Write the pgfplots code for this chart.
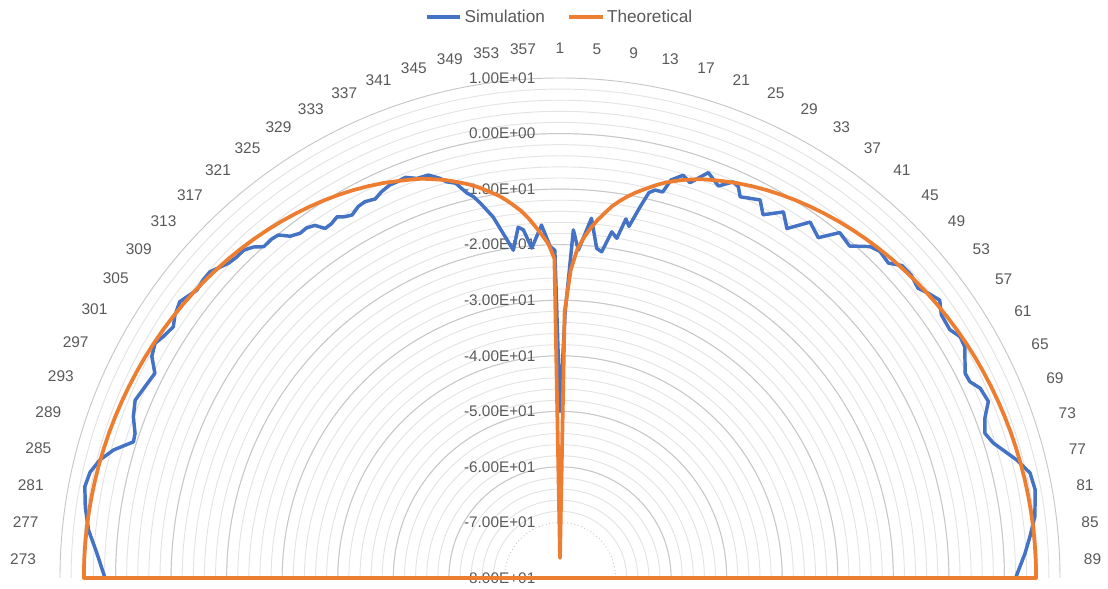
\documentclass[border=0pt]{standalone}
\usepackage{fontspec}
\setmainfont{Liberation Sans}
\usepackage{pgfplots}
\pgfplotsset{compat=1.18}
\usepackage{pgfplotstable}
\usepgfplotslibrary{polar}
\definecolor{simblue}{HTML}{4472C4}
\definecolor{theoorange}{HTML}{ED7D31}
\definecolor{labgray}{HTML}{595959}

% deg: clockwise from the top (category - 1), val: value on the radial axis
\pgfplotstableread{
deg val
-90 -80
-90 1.9
-86.9 3.5
-84.2 5.3
-81.5 6.4
-79.1 7.1
-77.3 6.7
-75.6 5.5
-74.0 3.6
-72.3 0.6
-71.2 0.8
-69.3 2.1
-67.3 2.9
-65.4 2.3
-63.2 1.7
-61.5 3.6
-59.9 4.25
-58.7 3.6
-57.0 3.0
-55.7 3.9
-54.0 4.6
-53.0 4.1
-51.6 3.4
-50.1 3.7
-48.8 3.7
-47.7 3.0
-46.5 2.3
-45.2 2.0
-44.0 2.0
-42.8 1.2
-41.8 0.0
-40.4 0.1
-39.4 -0.1
-38.3 -1.6
-37.0 -2.3
-35.9 -2.2
-34.8 -2.7
-33.9 -4.2
-32.8 -4.1
-31.7 -3.6
-30.8 -4.3
-29.8 -4.7
-28.5 -3.9
-27.4 -3.7
-26.0 -4.1
-24.8 -3.4
-23.4 -2.9
-22.4 -2.9
-21.1 -2.7
-19.7 -3.6
-18.1 -3.7
-16.7 -4.9
-16.0 -5.8
-14.8 -6.5
-13.6 -8.7
-12.8 -9.6
-12.0 -11.0
-10.5 -13.9
-9.6 -16.5
-8.1 -20.4
-6.8 -16.4
-6.0 -17.0
-4.9 -20.4
-3.0 -16.4
-1.7 -20.3
-0.9 -21.0
0 -50
1.1 -32.3
2.2 -17.3
3.2 -20.9
5.0 -15.0
6.35 -20.3
7.3 -20.8
8.5 -17.0
9.5 -18.0
10.4 -14.3
11.1 -15.5
12.2 -11.6
13.0 -8.8
13.8 -8.1
14.9 -8.1
15.6 -5.6
17.0 -4.2
18.2 -5.1
20.1 -2.3
22.0 -3.9
23.6 -2.2
24.5 -2.6
25.3 -4.1
27.9 -3.0
29.2 -5.1
31.4 -2.8
33.0 -5.0
35.1 -1.7
37.2 -3.1
39.0 0.0
41.1 -0.7
43.1 1.7
44.4 2.3
46.2 1.9
47.6 3.4
49.2 3.5
51.0 2.9
52.3 3.8
53.8 4.7
55.4 3.4
57.5 3.2
58.9 4.1
60.3 3.9
63.2 1.7
64.4 1.8
65.7 3.0
67.6 3.4
69.4 1.7
71.2 0.8
72.7 1.7
75.5 4.9
77.4 6.7
79.5 7.0
82.6 6.2
85.0 4.9
87.0 3.8
90 2.0
90 -80
}\simtable

\pgfplotstableread{
deg val
-90 -80
-90 5.7
-88 5.7
-86 5.68
-84 5.66
-82 5.62
-80 5.57
-78 5.51
-76 5.44
-74 5.35
-72 5.26
-70 5.15
-68 5.03
-66 4.9
-64 4.76
-62 4.61
-60 4.44
-58 4.26
-56 4.06
-54 3.85
-52 3.62
-50 3.37
-48 3.1
-46 2.82
-44 2.52
-42 2.19
-40 1.84
-38 1.46
-36 1.05
-34 0.62
-32 0.15
-30 -0.35
-28 -0.9
-26 -1.5
-24 -2.15
-22 -2.9
-20 -3.6
-19 -4.0
-18 -4.5
-17 -5.0
-16 -5.5
-15 -6.1
-14 -6.7
-13 -7.3
-12 -8.0
-11 -8.8
-10 -9.6
-9 -10.4
-8 -11.4
-7 -12.5
-6 -13.6
-5 -15.0
-4 -16.6
-3 -18.2
-2 -19.8
-1 -22.5
0 -76.4
1 -32.0
2 -24.5
3 -20.8
4 -18.6
5 -16.8
6 -15.2
7 -13.8
8 -12.4
9 -11.3
10 -10.3
11 -9.4
12 -8.6
13 -7.8
14 -7.0
15 -6.3
16 -5.7
17 -5.1
18 -4.6
19 -4.1
20 -3.65
22 -2.9
24 -2.15
26 -1.5
28 -0.9
30 -0.35
32 0.15
34 0.62
36 1.05
38 1.46
40 1.84
42 2.19
44 2.52
46 2.82
48 3.1
50 3.37
52 3.62
54 3.85
56 4.06
58 4.26
60 4.44
62 4.61
64 4.76
66 4.9
68 5.03
70 5.15
72 5.26
74 5.35
76 5.44
78 5.51
80 5.57
82 5.62
84 5.66
86 5.68
88 5.7
90 5.7
90 -80
}\theotable

\begin{document}
\begin{tikzpicture}
\begin{polaraxis}[
  scale only axis, width=750pt, height=750pt,
  xmin=0, xmax=180, ymin=0, ymax=90,
  xtick=\empty,
  ytick={20,30,...,90},
  minor ytick={12,14,...,88},
  yticklabels={},
  ymajorgrids, yminorgrids,
  major grid style={draw=black!22, line width=0.7pt},
  minor grid style={draw=black!11, line width=0.7pt},
  axis line style={draw=none},
  major tick length=0pt, minor tick length=0pt,
  clip=false,
  legend columns=2,
  legend cell align=left,
  legend style={at={(0.5,1)}, anchor=center, yshift=45.75pt,
    draw=none, fill=none, font=\fontsize{12.9pt}{15pt}\selectfont,
    text=labgray, inner sep=0pt,
    /tikz/every even column/.append style={column sep=15pt}},
  legend image code/.code={\draw[#1, line width=2.6pt] (0pt,0pt) -- (25pt,0pt);},
]
\coordinate (O) at (axis cs:0,0);
\draw[black!22, line width=0.7pt, dotted] (axis cs:0,10) arc[start angle=0, end angle=180, radius=41.67pt];
\node[anchor=east, xshift=-15pt, text=labgray, font=\fontsize{11.5pt}{13pt}\selectfont] at (axis cs:90,90) {1.00E+01};
\node[anchor=east, xshift=-15pt, text=labgray, font=\fontsize{11.5pt}{13pt}\selectfont] at (axis cs:90,80) {0.00E+00};
\node[anchor=east, xshift=-15pt, text=labgray, font=\fontsize{11.5pt}{13pt}\selectfont] at (axis cs:90,70) {-1.00E+01};
\node[anchor=east, xshift=-15pt, text=labgray, font=\fontsize{11.5pt}{13pt}\selectfont] at (axis cs:90,60) {-2.00E+01};
\node[anchor=east, xshift=-15pt, text=labgray, font=\fontsize{11.5pt}{13pt}\selectfont] at (axis cs:90,50) {-3.00E+01};
\node[anchor=east, xshift=-15pt, text=labgray, font=\fontsize{11.5pt}{13pt}\selectfont] at (axis cs:90,40) {-4.00E+01};
\node[anchor=east, xshift=-15pt, text=labgray, font=\fontsize{11.5pt}{13pt}\selectfont] at (axis cs:90,30) {-5.00E+01};
\node[anchor=east, xshift=-15pt, text=labgray, font=\fontsize{11.5pt}{13pt}\selectfont] at (axis cs:90,20) {-6.00E+01};
\node[anchor=east, xshift=-15pt, text=labgray, font=\fontsize{11.5pt}{13pt}\selectfont] at (axis cs:90,10) {-7.00E+01};
\node[anchor=east, xshift=-15pt, text=labgray, font=\fontsize{11.5pt}{13pt}\selectfont] at (axis cs:90,0) {-8.00E+01};
\addplot[color=simblue, line width=2.6pt, line join=round, no marks]
  table[x expr={90-\thisrow{deg}}, y expr={\thisrow{val}+80}] {\simtable};
\addlegendentry{Simulation}
\addplot[color=theoorange, line width=2.8pt, line join=round, no marks]
  table[x expr={90-\thisrow{deg}}, y expr={\thisrow{val}+80}] {\theotable};
\addlegendentry{Theoretical}
\end{polaraxis}
\foreach \c in {1,5,...,89} {
  \pgfmathtruncatemacro\ang{91-\c}
  \pgfmathtruncatemacro\anc{271-\c}
  \path (O) ++(\ang:391.5pt) node[anchor=\anc, inner sep=1.5pt, text=labgray, font=\fontsize{11.6pt}{13pt}\selectfont] {\c};
}
\foreach \c in {273,277,...,357} {
  \pgfmathtruncatemacro\ang{451-\c}
  \pgfmathtruncatemacro\anc{631-\c}
  \path (O) ++(\ang:391.5pt) node[anchor=\anc, inner sep=1.5pt, text=labgray, font=\fontsize{11.6pt}{13pt}\selectfont] {\c};
}
\pgfresetboundingbox
\path[use as bounding box] (O) ++(-420pt,-8.25pt) rectangle ++(831pt,441.75pt);
\end{tikzpicture}
\end{document}
